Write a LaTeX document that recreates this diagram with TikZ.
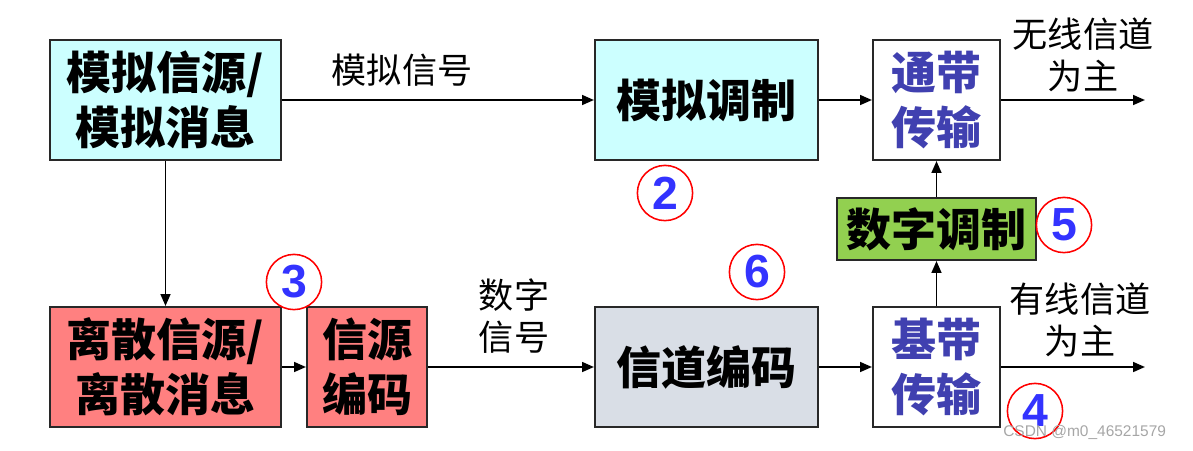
\documentclass[tikz,border=0pt]{standalone}
\usepackage{fontspec}
\usepackage{tikz}
\usetikzlibrary{arrows.meta, positioning, calc}
\setmainfont{Noto Sans CJK SC}
\newfontfamily\numfont{Liberation Sans}
\definecolor{fillAnalog}{RGB}{204,255,255}
\definecolor{fillDiscrete}{RGB}{255,128,128}
\definecolor{fillChannel}{RGB}{217,222,230}
\definecolor{fillDigMod}{RGB}{146,208,80}
\definecolor{textTrans}{RGB}{64,64,176}
\definecolor{textNum}{RGB}{51,51,255}
\definecolor{lineBox}{RGB}{40,40,40}
\tikzset{
  blockNode/.style={
    draw=lineBox,
    line width=1.4pt,
    align=center,
    inner sep=0pt,
    font=\fontsize{32}{39}\selectfont\bfseries,
    minimum height=3cm
  },
  analogNode/.style={blockNode, fill=fillAnalog},
  discreteNode/.style={blockNode, fill=fillDiscrete},
  channelNode/.style={blockNode, fill=fillChannel},
  transNode/.style={blockNode, fill=white, text=textTrans},
  digModNode/.style={blockNode, fill=fillDigMod, minimum height=1.55cm},
  signalLabel/.style={align=center, inner sep=0pt, font=\fontsize{25}{30}\selectfont},
  stepMark/.style={circle, draw=red, line width=1.1pt, minimum size=1.38cm, inner sep=0pt,
    text=textNum, font=\numfont\fontsize{33}{33}\selectfont\bfseries},
  sigFlow/.style={-{Triangle[length=8.5pt,width=7pt]}, line width=1.4pt, draw=black}
}
\begin{document}
\begin{tikzpicture}[x=0.025cm, y=-0.025cm]
  \useasboundingbox (0,0) rectangle (1193,450);

  % top row
  \node[analogNode, minimum width=5.775cm] (srcAnalog) at (165.5,100) {模拟信源/\\模拟消息};
  \node[analogNode, minimum width=5.575cm] (modAnalog) at (706.5,100) {模拟调制};
  \node[transNode, minimum width=3.175cm] (passband) at (936.5,100) {通带\\传输};

  % bottom row
  \node[discreteNode, minimum width=5.775cm] (srcDiscrete) at (165.5,367) {离散信源/\\离散消息};
  \node[discreteNode, minimum width=3cm] (srcCode) at (367,367) {信源\\编码};
  \node[channelNode, minimum width=5.575cm] (chCode) at (706.5,367) {信道编码};
  \node[transNode, minimum width=3.175cm] (baseband) at (936.5,367) {基带\\传输};

  \node[digModNode, minimum width=4.95cm] (modDigital) at (936.5,229) {数字调制};

  \coordinate (outWireless) at (1145,100);
  \coordinate (outWired) at (1145,367);

  % labels
  \node[signalLabel] (lblAnalog) at (402,70) {模拟信号};
  \node[signalLabel] (lblDigital) at (514,316) {数字\\信号};
  \node[signalLabel] (lblWireless) at (1083,55) {无线信道\\为主};
  \node[signalLabel] (lblWired) at (1080,320) {有线信道\\为主};

  \node[stepMark] (mark2) at (665,193) {2};
  \node[stepMark] (mark3) at (294,282) {3};
  \node[stepMark] (mark4) at (1035,411) {4};
  \node[stepMark] (mark5) at (1064,225) {5};
  \node[stepMark] (mark6) at (757,272) {6};

  \draw[sigFlow] (srcAnalog) -- (modAnalog);
  \draw[sigFlow] (modAnalog) -- (passband);
  \draw[sigFlow] (passband) -- (outWireless);
  \draw[sigFlow] (srcAnalog) -- (srcDiscrete);
  \draw[sigFlow] (srcDiscrete) -- (srcCode);
  \draw[sigFlow] (srcCode) -- (chCode);
  \draw[sigFlow] (chCode) -- (baseband);
  \draw[sigFlow] (baseband) -- (outWired);
  \draw[sigFlow] (baseband) -- (modDigital);
  \draw[sigFlow] (modDigital) -- (passband);

  \node[text=black!35, font=\numfont\fontsize{11}{11}\selectfont, anchor=west, inner sep=0pt] (wmark) at (1003,432) {CSDN @m0\_46521579};
\end{tikzpicture}
\end{document}
